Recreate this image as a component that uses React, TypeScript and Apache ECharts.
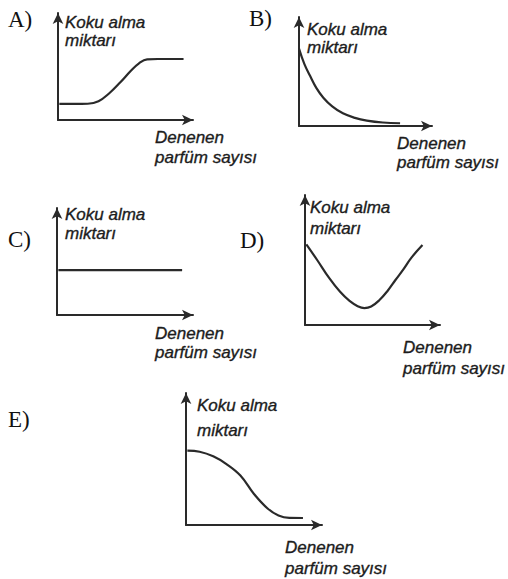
import React, { useEffect, useRef } from "react";
import * as echarts from "echarts";

// Curve data for each small plot, as [parfüm sayısı, koku alma] pairs (0–100 scale)
const panelLetters = ["A)", "B)", "C)", "D)", "E)"];
const yTitle = ["Koku alma", "miktarı"];
const xTitle = ["Denenen", "parfüm sayısı"];

const curveA: number[][] = [
  [1, 15], [12, 15], [22, 15.2], [30, 17.5], [38, 25], [46, 35], [54, 46], [60, 53], [66, 56.7], [74, 57], [84, 57], [93, 57],
];
const curveB: number[][] = [
  [0, 71], [4, 57], [8.3, 46], [13, 35], [18.3, 26], [25, 18], [33, 11.6], [42, 7.5], [51, 5], [63, 3.2], [76, 2.5],
];
const curveC: number[][] = [
  [1, 42], [92, 42],
];
const curveD: number[][] = [
  [1, 62], [9, 50], [18, 36], [26, 25.5], [33, 18.5], [39, 14.5], [44, 13], [49, 14.2], [55, 19], [61, 26], [67, 34.6], [73, 43], [79, 52], [87, 61.5],
];
const curveE: number[][] = [
  [1, 56.3], [10, 55.5], [20, 52], [30, 46], [40, 37.5], [50, 23.5], [60, 12.5], [68, 7.2], [76, 5.4], [86, 5.3],
];

const curves = [curveA, curveB, curveC, curveD, curveE];

// Pixel layout of each plot: axis origin, axis lengths, and where the texts sit
const layout = [
  { left: 58, top: 13, width: 135, height: 107, letter: [8, 19], yt: [65, 22, 40], xt: [155, 137, 157] },
  { left: 299, top: 17, width: 133, height: 109, letter: [249, 18], yt: [307, 29, 47], xt: [397, 143, 162] },
  { left: 57, top: 208, width: 136, height: 107, letter: [8, 239], yt: [65, 214, 233], xt: [155, 333, 352] },
  { left: 305, top: 195, width: 135, height: 130, letter: [240, 240], yt: [310, 207, 228], xt: [403, 347, 368] },
  { left: 186, top: 393, width: 136, height: 132, letter: [8, 419], yt: [197, 405, 430], xt: [285, 547, 568] },
];

const ink = "#2a2a2a";
const sans = "'Liberation Sans', Arial, sans-serif";
const serif = "'Liberation Serif', 'Times New Roman', serif";

export default function App() {
  const ref = useRef<HTMLDivElement>(null);

  useEffect(() => {
    if (!ref.current) return;
    const chart = echarts.init(ref.current, null, { renderer: "svg" });

    const axisLine = {
      show: true,
      onZero: false,
      symbol: ["none", "arrow"],
      symbolSize: [8, 11],
      lineStyle: { color: ink, width: 2 },
    };
    const hidden = {
      axisTick: { show: false },
      axisLabel: { show: false },
      splitLine: { show: false },
    };

    const textStyle = (t: string) => ({
      text: t,
      font: `italic 17px ${sans}`,
      fill: "#1c1c1c",
      stroke: "#1c1c1c",
      lineWidth: 0.35,
      verticalAlign: "middle",
      align: "left",
    });

    const graphics: any[] = [];
    layout.forEach((l, i) => {
      graphics.push({
        type: "text",
        x: l.letter[0],
        y: l.letter[1],
        style: {
          text: panelLetters[i],
          font: `23px ${serif}`,
          fill: "#111",
          verticalAlign: "middle",
          align: "left",
        },
      });
      yTitle.forEach((t, k) => {
        graphics.push({ type: "text", x: l.yt[0], y: l.yt[1 + k], style: textStyle(t) });
      });
      xTitle.forEach((t, k) => {
        graphics.push({ type: "text", x: l.xt[0], y: l.xt[1 + k], style: textStyle(t) });
      });
    });

    chart.setOption({
      animation: false,
      backgroundColor: "#ffffff",
      grid: layout.map((l) => ({
        left: l.left,
        top: l.top,
        width: l.width,
        height: l.height,
        containLabel: false,
      })),
      xAxis: layout.map((_, i) => ({
        type: "value",
        gridIndex: i,
        min: 0,
        max: 100,
        axisLine,
        ...hidden,
      })),
      yAxis: layout.map((_, i) => ({
        type: "value",
        gridIndex: i,
        min: 0,
        max: 100,
        axisLine,
        ...hidden,
      })),
      series: curves.map((c, i) => ({
        type: "line",
        xAxisIndex: i,
        yAxisIndex: i,
        data: c,
        smooth: 0.4,
        showSymbol: false,
        silent: true,
        lineStyle: { color: ink, width: 2.2 },
      })),
      graphic: graphics,
    });

    return () => chart.dispose();
  }, []);

  return (
    <div
      ref={ref}
      style={{ position: "fixed", left: 0, top: 0, width: 508, height: 579, background: "#fff" }}
    />
  );
}
